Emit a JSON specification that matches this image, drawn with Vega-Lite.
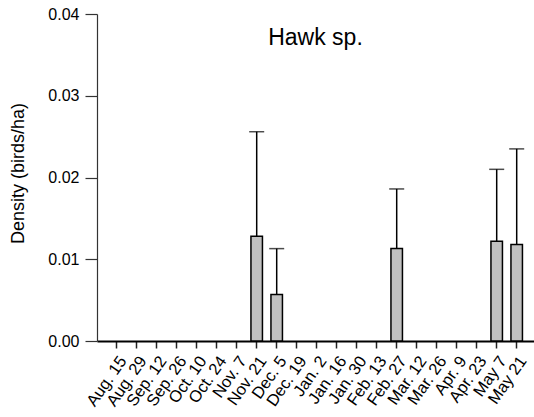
{
  "$schema": "https://vega.github.io/schema/vega-lite/v6.json",
  "width": 437,
  "height": 327,
  "autosize": "none",
  "padding": {"left": 97, "top": 14, "right": 0, "bottom": 76},
  "background": "white",
  "config": {
    "view": {"stroke": null},
    "font": "Liberation Sans"
  },
  "title": {
    "text": "Hawk sp.",
    "fontSize": 23,
    "fontWeight": "normal",
    "font": "Liberation Sans",
    "color": "black",
    "anchor": "middle",
    "baseline": "alphabetic",
    "offset": 0,
    "dy": 62
  },
  "data": {
    "values": [
      {"date": "Aug. 15", "density": 0, "upper": 0},
      {"date": "Aug. 29", "density": 0, "upper": 0},
      {"date": "Sep. 12", "density": 0, "upper": 0},
      {"date": "Sep. 26", "density": 0, "upper": 0},
      {"date": "Oct. 10", "density": 0, "upper": 0},
      {"date": "Oct. 24", "density": 0, "upper": 0},
      {"date": "Nov. 7", "density": 0, "upper": 0},
      {"date": "Nov. 21", "density": 0.0128, "upper": 0.0256},
      {"date": "Dec. 5", "density": 0.0057, "upper": 0.0113},
      {"date": "Dec. 19", "density": 0, "upper": 0},
      {"date": "Jan. 2", "density": 0, "upper": 0},
      {"date": "Jan. 16", "density": 0, "upper": 0},
      {"date": "Jan. 30", "density": 0, "upper": 0},
      {"date": "Feb. 13", "density": 0, "upper": 0},
      {"date": "Feb. 27", "density": 0.0113, "upper": 0.0186},
      {"date": "Mar. 12", "density": 0, "upper": 0},
      {"date": "Mar. 26", "density": 0, "upper": 0},
      {"date": "Apr. 9", "density": 0, "upper": 0},
      {"date": "Apr. 23", "density": 0, "upper": 0},
      {"date": "May 7", "density": 0.0122, "upper": 0.0210},
      {"date": "May 21", "density": 0.0118, "upper": 0.0235}
    ]
  },
  "transform": [{"filter": "datum.density > 0"}],
  "encoding": {
    "x": {
      "field": "date",
      "type": "nominal",
      "scale": {
        "domain": ["Aug. 15", "Aug. 29", "Sep. 12", "Sep. 26", "Oct. 10", "Oct. 24", "Nov. 7", "Nov. 21", "Dec. 5", "Dec. 19", "Jan. 2", "Jan. 16", "Jan. 30", "Feb. 13", "Feb. 27", "Mar. 12", "Mar. 26", "Apr. 9", "Apr. 23", "May 7", "May 21"],
        "paddingInner": 0.425, "paddingOuter": 0.6375, "align": 0.547
      },
      "axis": {
        "title": null,
        "labelAngle": -55,
        "labelFontSize": 16.5,
        "labelColor": "black",
        "labelAlign": "right",
        "labelBaseline": "top",
        "labelPadding": 5,
        "domainColor": "black",
        "domainWidth": 2,
        "tickColor": "#222",
        "tickWidth": 1.5,
        "tickSize": 7,
        "grid": false
      }
    }
  },
  "layer": [
    {
      "mark": {"type": "bar", "fill": "#c0c0c0", "stroke": "black", "strokeWidth": 1.5},
      "encoding": {
        "y": {
          "field": "density",
          "type": "quantitative",
          "scale": {"domain": [0, 0.04], "nice": false},
          "axis": {
            "title": "Density (birds/ha)",
            "titleFontSize": 18,
            "titleFontWeight": "normal",
            "titleColor": "black",
            "titleX": -70,
            "titleY": 159,
            "titleAnchor": "middle",
            "titleBaseline": "bottom",
            "values": [0, 0.01, 0.02, 0.03, 0.04],
            "format": ".2f",
            "labelFontSize": 16,
            "labelColor": "black",
            "labelPadding": 6,
            "tickSize": 12,
            "tickColor": "#333",
            "tickWidth": 1.2,
            "domainColor": "#333",
            "domainWidth": 1.2,
            "grid": false
          }
        }
      }
    },
    {
      "mark": {"type": "rule", "color": "black", "strokeWidth": 1.5},
      "encoding": {
        "y": {"field": "density", "type": "quantitative"},
        "y2": {"field": "upper"}
      }
    },
    {
      "mark": {"type": "tick", "color": "black", "thickness": 1.5, "size": 15, "orient": "horizontal"},
      "encoding": {
        "y": {"field": "upper", "type": "quantitative"}
      }
    }
  ]
}
